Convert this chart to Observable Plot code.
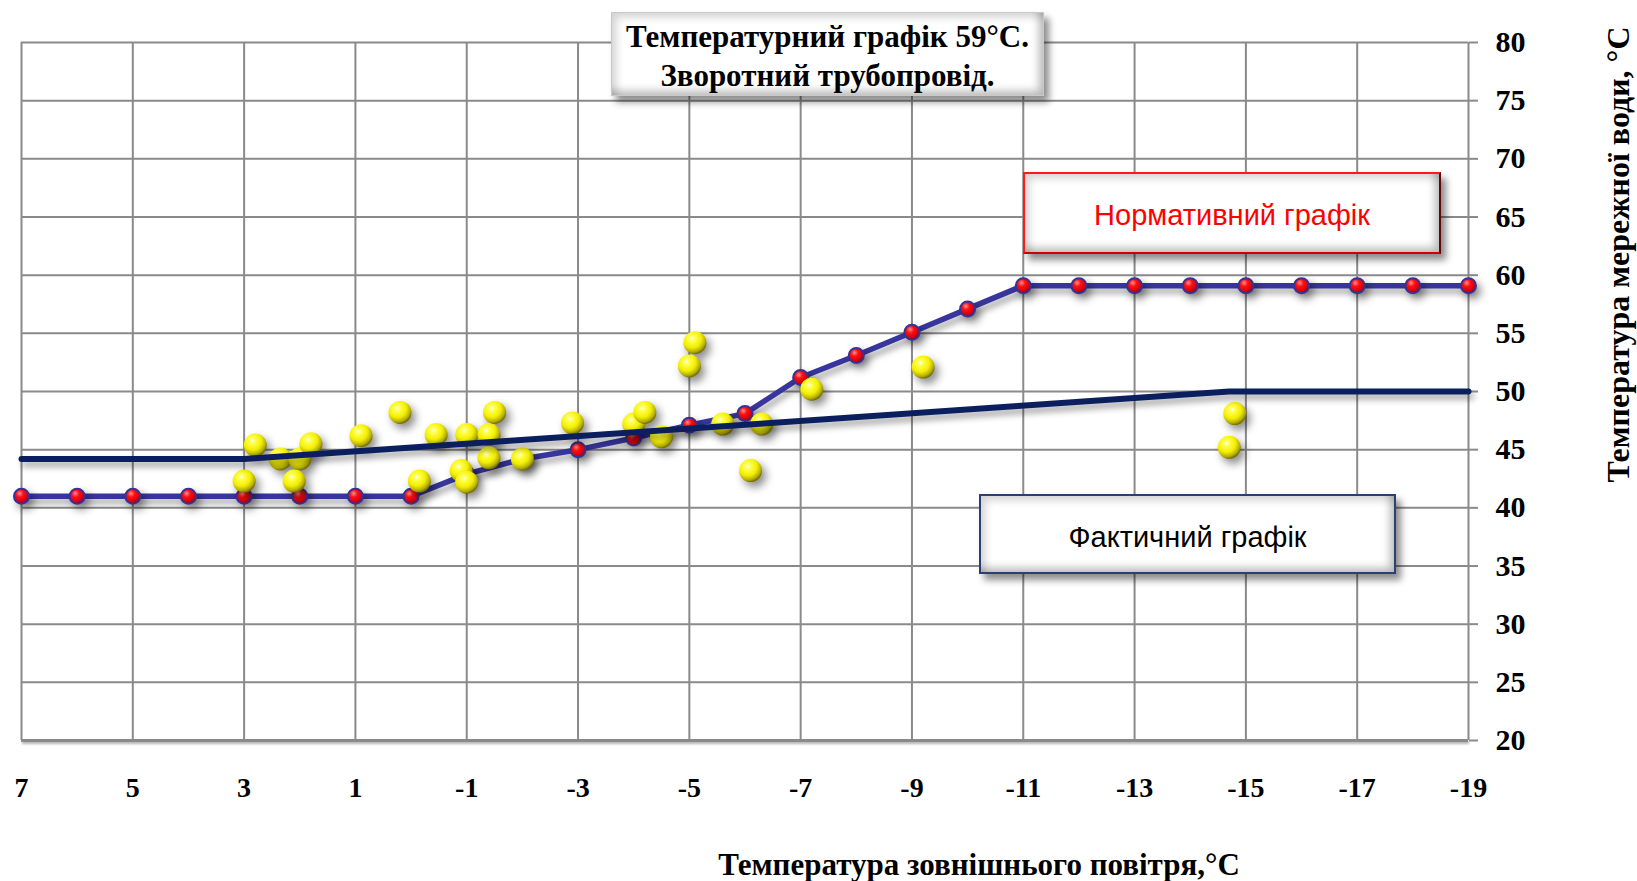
<!DOCTYPE html>
<html>
<head>
<meta charset="utf-8">
<script src="https://cdn.jsdelivr.net/npm/d3@7"></script>
<script src="https://cdn.jsdelivr.net/npm/@observablehq/plot@0.6"></script>
<style>
  html, body { margin: 0; padding: 0; background: #fff; }
  #wrap { position: relative; width: 1637px; height: 881px; overflow: hidden; }
  .box {
    position: absolute; background: #fff; box-sizing: border-box;
    display: flex; flex-direction: column; align-items: center; justify-content: center;
    box-shadow: inset 7px 7px 9px -3px rgba(0,0,0,0.18), inset -7px -7px 9px -3px rgba(0,0,0,0.28), 5px 6px 7px rgba(0,0,0,0.45);
  }
  #titleBox { left: 611px; top: 12px; width: 433px; height: 84px; border: 1.5px solid #c8c8c8;
    font: bold 31px "Liberation Serif", "Times New Roman", serif; color: #000; line-height: 39px; padding-top: 3px; }
  #normBox { left: 1023px; top: 172px; width: 418px; height: 82px; border: 2.5px solid #ff1a1a;
    border-right-color: #5a0a0a; border-bottom-color: #c00; padding-top: 4px;
    font: 29px "Liberation Sans", Arial, sans-serif; color: #ff0000; }
  #factBox { left: 979px; top: 494px; width: 417px; height: 80px; border: 2.5px solid #2a3f75; padding-top: 6px;
    font: 29px "Liberation Sans", Arial, sans-serif; color: #000; }
</style>
</head>
<body>
<div id="wrap"></div>
<script>
// ---- data ----
const xTicks = [7, 5, 3, 1, -1, -3, -5, -7, -9, -11, -13, -15, -17, -19];
const yTicks = [20, 25, 30, 35, 40, 45, 50, 55, 60, 65, 70, 75, 80];

// Нормативний графік (normative)
const normX = [7, 6, 5, 4, 3, 2, 1, 0, -1, -2, -3, -4, -5, -6, -7, -8, -9, -10, -11, -12, -13, -14, -15, -16, -17, -18, -19];
const normY = [41, 41, 41, 41, 41, 41, 41, 41, 42.9, 44.2, 45, 46, 47.1, 48.1, 51.2, 53.1, 55.1, 57.1, 59.1, 59.1, 59.1, 59.1, 59.1, 59.1, 59.1, 59.1, 59.1];

// Фактичний графік (actual trend line)
const factX = [7, 3, -14.7, -19];
const factY = [44.2, 44.2, 50, 50];

// Measured points
const measX = [2.8, 3.0, 2.35, 2.0, 1.8, 2.1, 0.9, 0.2, -0.15, -0.45, -0.9, -1.0, -1.0, -1.4, -1.5, -1.4, -2.0, -2.9, -4.0, -4.2, -4.5, -5.0, -5.1, -5.6, -6.3, -6.1, -7.2, -9.2, -14.8, -14.7];
const measY = [45.4, 42.3, 44.2, 44.2, 45.5, 42.3, 46.2, 48.2, 42.3, 46.3, 43.2, 42.2, 46.3, 46.3, 48.2, 44.3, 44.2, 47.3, 47.2, 48.2, 46.1, 52.2, 54.2, 47.2, 47.2, 43.2, 50.2, 52.1, 48.1, 45.2];

const titleLines = ["Температурний графік 59°С.", "Зворотний трубопровід."];
const normLabel = "Нормативний графік";
const factLabel = "Фактичний графік";
const xTitle = "Температура зовнішнього повітря,°С";
const yTitle = "Температура мережної води, °С";

// ---- tables ----
const norm = normX.map((x, i) => ({x, y: normY[i]}));
const fact = factX.map((x, i) => ({x, y: factY[i]}));
const meas = measX.map((x, i) => ({x, y: measY[i]}));

const grid = "#8a8a8a";
const serif = "'Liberation Serif', 'Times New Roman', serif";
const fmt = d => String(d);

const chart = Plot.plot({
  width: 1637, height: 881,
  marginLeft: 21, marginRight: 169, marginTop: 42, marginBottom: 141,
  x: {domain: [7, -19]},
  y: {domain: [20, 80]},
  style: {fontFamily: serif, fontWeight: "bold", fontSize: "30px", background: "white", overflow: "visible"},
  marks: [
    Plot.gridX(xTicks, {stroke: grid, strokeOpacity: 1, strokeWidth: 2}),
    Plot.gridY(yTicks, {stroke: grid, strokeOpacity: 1, strokeWidth: 2}),
    Plot.ruleY([20], {stroke: grid, strokeWidth: 3}),
    Plot.axisY(yTicks, {anchor: "right", tickSize: 9, tickPadding: 18, tickFormat: fmt, stroke: grid, strokeWidth: 2, fill: "black", fontSize: 30, fontWeight: "bold", label: null}),
    Plot.axisX(xTicks, {anchor: "bottom", tickSize: 0, tickPadding: 37, tickFormat: fmt, fill: "black", fontSize: 28, fontWeight: "bold", label: null}),
    Plot.line(norm, {x: "x", y: "y", stroke: "#38369c", strokeWidth: 5.5}),
    Plot.dot(norm, {x: "x", y: "y", r: 7.5, fill: "url(#redBall)", stroke: "#33339a", strokeWidth: 2}),
    Plot.dot(meas, {x: "x", y: "y", r: 11.5, fill: "url(#yellowBall)", stroke: "none"}),
    Plot.line(fact, {x: "x", y: "y", stroke: "#0b1f5e", strokeWidth: 6}),
    Plot.text([xTitle], {frameAnchor: "bottom", textAnchor: "middle", lineAnchor: "middle", dx: 234, dy: 125, fontSize: 31, fontWeight: "bold", fill: "black"}),
    Plot.text([yTitle], {frameAnchor: "top-right", textAnchor: "middle", lineAnchor: "middle", dx: 150, dy: 212, rotate: -90, fontSize: 32, fontWeight: "bold", fill: "black"})
  ]
});

// gradients & shadows
const svg = d3.select(chart.tagName.toLowerCase() === "svg" ? chart : chart.querySelector("svg"));
const defs = svg.insert("defs", ":first-child");
const yg = defs.append("radialGradient").attr("id", "yellowBall").attr("cx", "38%").attr("cy", "32%").attr("r", "68%");
[["0%", "#ffffe0"], ["20%", "#ffff4a"], ["58%", "#f2ee00"], ["86%", "#b5ad00"], ["100%", "#767000"]]
  .forEach(([o, c]) => yg.append("stop").attr("offset", o).attr("stop-color", c));
const rg = defs.append("radialGradient").attr("id", "redBall").attr("cx", "38%").attr("cy", "32%").attr("r", "70%");
[["0%", "#ff9090"], ["35%", "#ff1010"], ["80%", "#d00010"], ["100%", "#800010"]]
  .forEach(([o, c]) => rg.append("stop").attr("offset", o).attr("stop-color", c));

const lines = svg.selectAll('g[aria-label="line"]').nodes();
const dots = svg.selectAll('g[aria-label="dot"]').nodes();
lines.forEach(n => n.style.filter = "drop-shadow(3px 5px 3px rgba(0,0,0,0.35))");
dots.forEach(n => n.style.filter = "drop-shadow(4px 5px 4px rgba(0,0,0,0.45))");
svg.selectAll('g[aria-label="rule"]').nodes().forEach(n => n.style.filter = "drop-shadow(1px 2px 1px rgba(0,0,0,0.3))");

const wrap = document.getElementById("wrap");
wrap.appendChild(chart);

function box(id, lines) {
  const d = document.createElement("div");
  d.className = "box"; d.id = id;
  lines.forEach(t => { const s = document.createElement("div"); s.textContent = t; d.appendChild(s); });
  wrap.appendChild(d);
}
box("titleBox", titleLines);
box("normBox", [normLabel]);
box("factBox", [factLabel]);
</script>
</body>
</html>
